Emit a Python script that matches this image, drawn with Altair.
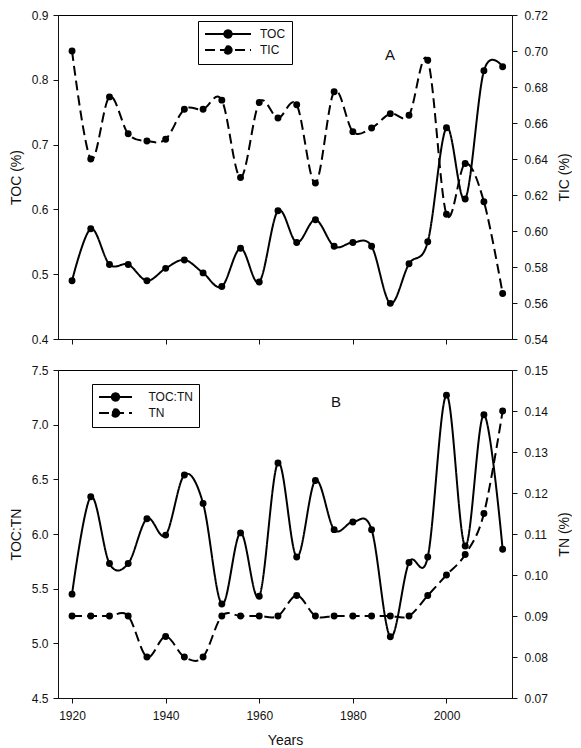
import altair as alt
import pandas as pd

# ---------------- data ----------------
years = [1920, 1924, 1928, 1932, 1936, 1940, 1944, 1948, 1952, 1956, 1960, 1964,
         1968, 1972, 1976, 1980, 1984, 1988, 1992, 1996, 2000, 2004, 2008, 2012]

toc = [0.490, 0.570, 0.515, 0.515, 0.490, 0.509, 0.522, 0.502, 0.481, 0.540, 0.488, 0.598,
       0.549, 0.584, 0.543, 0.549, 0.543, 0.455, 0.516, 0.550, 0.726, 0.616, 0.814, 0.820]

tic = [0.700, 0.640, 0.6745, 0.654, 0.650, 0.651, 0.6676, 0.6676, 0.6727, 0.6297, 0.6714, 0.6628,
       0.6701, 0.6266, 0.6774, 0.6552, 0.6572, 0.6652, 0.6643, 0.6949, 0.6093, 0.6375, 0.6163, 0.5653]

toc_tn = [5.45, 6.34, 5.73, 5.73, 6.14, 5.99, 6.54, 6.28, 5.36, 6.01, 5.43, 6.65,
          5.79, 6.49, 6.04, 6.11, 6.04, 5.06, 5.74, 5.79, 7.27, 5.89, 7.09, 5.86]

tn = [0.090, 0.090, 0.090, 0.090, 0.080, 0.085, 0.080, 0.080, 0.090, 0.090, 0.090, 0.090,
      0.095, 0.090, 0.090, 0.090, 0.090, 0.090, 0.090, 0.095, 0.100, 0.105, 0.115, 0.140]

x_ticks = [1920, 1940, 1960, 1980, 2000]
toc_ticks = [0.4, 0.5, 0.6, 0.7, 0.8, 0.9]
tic_ticks = [0.54, 0.56, 0.58, 0.60, 0.62, 0.64, 0.66, 0.68, 0.70, 0.72]
ratio_ticks = [4.5, 5.0, 5.5, 6.0, 6.5, 7.0, 7.5]
tn_ticks = [0.07, 0.08, 0.09, 0.10, 0.11, 0.12, 0.13, 0.14, 0.15]

FONT = "Liberation Sans"
INK = "#111111"
CURVE = "cardinal"


def legend_symbol(half_units, r):
    return (f"M{-half_units},0L{half_units},0"
            f"M{r},0A{r},{r},0,1,1,{-r},0A{r},{r},0,1,1,{r},0Z")


def dual_panel(lname, lvals, rname, rvals, ltitle, rtitle, lticks, rticks,
               lfmt, rfmt, xaxis, legend, label, label_xy, w, h):
    n = len(years)
    df = pd.DataFrame({
        "year": years + years,
        "value": lvals + rvals,
        "series": [lname] * n + [rname] * n,
    })
    base = alt.Chart(df)
    x = alt.X("year:Q", scale=alt.Scale(domain=[1917, 2014], nice=False, zero=False),
              axis=xaxis)
    dash = alt.StrokeDash("series:N",
                          scale=alt.Scale(domain=[lname, rname], range=[[1, 0], [10, 5]]),
                          legend=legend)
    ly = alt.Y("value:Q",
               scale=alt.Scale(domain=[lticks[0], lticks[-1]], nice=False, zero=False),
               axis=alt.Axis(orient="left", values=lticks, format=lfmt, title=ltitle,
                             labelPadding=5, titlePadding=8))
    ry = alt.Y("value:Q",
               scale=alt.Scale(domain=[rticks[0], rticks[-1]], nice=False, zero=False),
               axis=alt.Axis(orient="right", values=rticks, format=rfmt, title=rtitle,
                             labelPadding=7, titlePadding=10, titleAngle=270,
                             titleBaseline="top"))

    lsel = base.transform_filter(alt.datum.series == lname)
    rsel = base.transform_filter(alt.datum.series == rname)

    left_line = lsel.mark_line(interpolate=CURVE, color="black", strokeWidth=2).encode(
        x=x, y=ly, strokeDash=dash)
    left_pts = lsel.mark_circle(size=48, color="black", opacity=1).encode(x=x, y=ly)
    right_line = rsel.mark_line(interpolate=CURVE, color="black", strokeWidth=2).encode(
        x=x, y=ry, strokeDash=dash)
    right_pts = rsel.mark_circle(size=48, color="black", opacity=1).encode(x=x, y=ry)

    txt = alt.Chart(pd.DataFrame({"t": [label]})).mark_text(
        font=FONT, fontSize=15, color=INK, baseline="middle", align="center").encode(
        text="t:N", x=alt.value(label_xy[0]), y=alt.value(label_xy[1]))

    return alt.layer(
        alt.layer(left_line, left_pts, txt),
        alt.layer(right_line, right_pts),
    ).resolve_scale(y="independent").properties(width=w, height=h)


def make_legend(lx, ly, half_px, label_offset):
    s = 12
    unit = s / 2
    return alt.Legend(
        title=None, orient="none", legendX=lx, legendY=ly,
        symbolType=legend_symbol(round(half_px / unit, 3), round(3.7 / unit, 3)),
        symbolSize=s * s, symbolStrokeWidth=2, symbolStrokeColor="black",
        symbolFillColor="black",
        symbolOffset=half_px - s / 2,
        labelOffset=label_offset,
        labelFont=FONT, labelFontSize=12, labelColor=INK,
        strokeColor="black", fillColor="white", padding=6, rowPadding=0,
    )


top = dual_panel(
    "TOC", toc, "TIC", tic, "TOC (%)", "TIC (%)", toc_ticks, tic_ticks, ".1f", ".2f",
    alt.Axis(values=x_ticks, labels=False, title=None, ticks=True),
    make_legend(140, 6, 23, 25), "A", (332, 40), 454, 324,
)

bottom = dual_panel(
    "TOC:TN", toc_tn, "TN", tn, "TOC:TN", "TN (%)", ratio_ticks, tn_ticks, ".1f", ".2f",
    alt.Axis(values=x_ticks, format="d", title="Years", labelPadding=7, titlePadding=12),
    make_legend(34, 14, 16.5, 26), "B", (278, 32), 454, 328,
)

chart = alt.vconcat(top, bottom, spacing=17).resolve_scale(
    x="independent", strokeDash="independent"
).resolve_legend(strokeDash="independent").properties(
    padding={"top": 0, "left": 0, "right": 0, "bottom": 0}
).configure_view(
    stroke="black", strokeWidth=1
).configure_axis(
    domainColor=INK, tickColor=INK, labelColor=INK, titleColor=INK,
    labelFont=FONT, titleFont=FONT, labelFontSize=12, titleFontSize=14,
    titleFontWeight="normal", grid=False, tickSize=5, domainWidth=1, tickWidth=1,
)

chart.save("out.html", embed_options={"renderer": "svg", "actions": False})
